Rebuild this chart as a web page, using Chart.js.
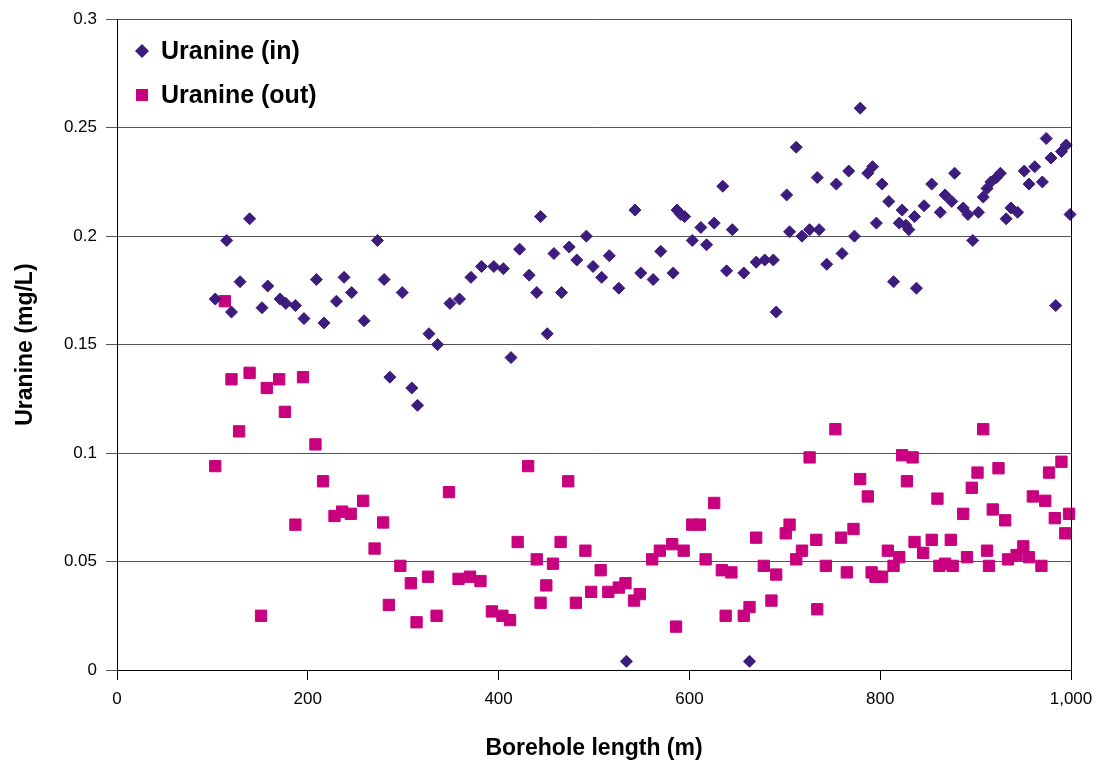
<!DOCTYPE html>
<html>
<head>
<meta charset="utf-8">
<script src="https://cdn.jsdelivr.net/npm/chart.js@4.4.1/dist/chart.umd.min.js"></script>
<style>
  html, body { margin: 0; padding: 0; background: #fff; }
</style>
</head>
<body>
<canvas id="uranineChart" width="1099" height="762"></canvas>
<script>
// borehole length (m) and uranine concentration (mg/L)
const depthIn = [103, 115, 120, 129, 139, 152, 158, 171, 177, 187, 196, 209, 217, 230, 238, 246, 259, 273, 280, 286,
  299, 309, 315, 327, 336, 349, 359, 371, 382, 395, 405, 413, 422, 432, 440, 444, 451, 458, 466, 474,
  482, 492, 499, 508, 516, 526, 534, 543, 549, 562, 570, 583, 587, 591, 595, 603, 612, 618, 626, 635,
  639, 645, 657, 663, 670, 679, 688, 691, 702, 705, 712, 718, 726, 734, 736, 744, 754, 760, 767, 773,
  779, 787, 792, 796, 802, 809, 814, 820, 823, 827, 830, 836, 838, 846, 854, 863, 868, 875, 878, 887,
  892, 897, 903, 908, 912, 916, 922, 926, 932, 937, 944, 951, 956, 962, 970, 974, 979, 984, 990, 995, 999];
const uranineIn = [0.171, 0.198, 0.165, 0.179, 0.208, 0.167, 0.177, 0.171, 0.169, 0.168, 0.162, 0.180, 0.160, 0.170, 0.181, 0.174, 0.161, 0.198, 0.180, 0.135,
  0.174, 0.130, 0.122, 0.155, 0.150, 0.169, 0.171, 0.181, 0.186, 0.186, 0.185, 0.144, 0.194, 0.182, 0.174, 0.209, 0.155, 0.192, 0.174, 0.195,
  0.189, 0.200, 0.186, 0.181, 0.191, 0.176, 0.004, 0.212, 0.183, 0.180, 0.193, 0.183, 0.212, 0.210, 0.209, 0.198, 0.204, 0.196, 0.206, 0.223,
  0.184, 0.203, 0.183, 0.004, 0.188, 0.189, 0.189, 0.165, 0.219, 0.202, 0.241, 0.200, 0.203, 0.227, 0.203, 0.187, 0.224, 0.192, 0.230, 0.200,
  0.259, 0.229, 0.232, 0.206, 0.224, 0.216, 0.179, 0.206, 0.212, 0.205, 0.203, 0.209, 0.176, 0.214, 0.224, 0.211, 0.219, 0.216, 0.229, 0.213,
  0.210, 0.198, 0.211, 0.218, 0.222, 0.225, 0.227, 0.229, 0.208, 0.213, 0.211, 0.230, 0.224, 0.232, 0.225, 0.245, 0.236, 0.168, 0.239, 0.242, 0.210];

const depthOut = [103, 113, 120, 128, 139, 151, 157, 170, 176, 187, 195, 208, 216, 228, 236, 245, 258, 270, 279, 285,
  297, 308, 314, 326, 335, 348, 358, 370, 381, 393, 404, 412, 420, 431, 440, 444, 450, 457, 465, 473,
  481, 491, 497, 507, 515, 526, 533, 542, 548, 561, 569, 582, 586, 594, 603, 611, 617, 626, 634, 638,
  644, 657, 663, 670, 678, 686, 691, 701, 705, 712, 718, 726, 733, 734, 743, 753, 759, 765, 772, 779,
  787, 791, 795, 802, 808, 814, 820, 823, 828, 834, 836, 845, 854, 860, 862, 868, 874, 876, 887, 891,
  896, 902, 908, 912, 914, 918, 924, 931, 934, 943, 950, 956, 960, 969, 973, 977, 983, 990, 994, 998];
const uranineOut = [0.094, 0.170, 0.134, 0.110, 0.137, 0.025, 0.130, 0.134, 0.119, 0.067, 0.135, 0.104, 0.087, 0.071, 0.073, 0.072, 0.078, 0.056, 0.068, 0.030,
  0.048, 0.040, 0.022, 0.043, 0.025, 0.082, 0.042, 0.043, 0.041, 0.027, 0.025, 0.023, 0.059, 0.094, 0.051, 0.031, 0.039, 0.049, 0.059, 0.087,
  0.031, 0.055, 0.036, 0.046, 0.036, 0.038, 0.040, 0.032, 0.035, 0.051, 0.055, 0.058, 0.020, 0.055, 0.067, 0.067, 0.051, 0.077, 0.046, 0.025,
  0.045, 0.025, 0.029, 0.061, 0.048, 0.032, 0.044, 0.063, 0.067, 0.051, 0.055, 0.098, 0.060, 0.028, 0.048, 0.111, 0.061, 0.045, 0.065, 0.088,
  0.080, 0.045, 0.043, 0.043, 0.055, 0.048, 0.052, 0.099, 0.087, 0.098, 0.059, 0.054, 0.060, 0.079, 0.048, 0.049, 0.060, 0.048, 0.072, 0.052,
  0.084, 0.091, 0.111, 0.055, 0.048, 0.074, 0.093, 0.069, 0.051, 0.053, 0.057, 0.052, 0.080, 0.048, 0.078, 0.091, 0.070, 0.096, 0.063, 0.072];

const inColor = '#3c1c7c';
const outColor = '#c8007f';
const fontFamily = '"Liberation Sans", Arial, sans-serif';

const toPoints = (xs, ys) => xs.map((x, i) => ({ x: x, y: ys[i] }));

// right-hand frame line and the legend inside the plot area
const frameAndLegend = {
  id: 'frameAndLegend',
  afterDraw(chart) {
    const { ctx, chartArea } = chart;
    ctx.save();
    ctx.strokeStyle = '#000';
    ctx.lineWidth = 1;
    ctx.beginPath();
    ctx.moveTo(Math.round(chartArea.right) + 0.5, chartArea.top);
    ctx.lineTo(Math.round(chartArea.right) + 0.5, chartArea.bottom);
    ctx.stroke();

    ctx.font = 'bold 25px ' + fontFamily;
    ctx.textBaseline = 'middle';
    chart.data.datasets.forEach((ds, i) => {
      const cx = 142;
      const cy = 51 + i * 44;
      ctx.fillStyle = ds.backgroundColor;
      ctx.beginPath();
      if (ds.pointStyle === 'rectRot') {
        ctx.moveTo(cx - 7, cy);
        ctx.lineTo(cx, cy - 7);
        ctx.lineTo(cx + 7, cy);
        ctx.lineTo(cx, cy + 7);
        ctx.closePath();
      } else {
        ctx.rect(cx - 6, cy - 6, 12, 12);
      }
      ctx.fill();
      ctx.fillStyle = '#000';
      ctx.fillText(ds.label, 161, cy + 1);
    });
    ctx.restore();
  }
};

new Chart(document.getElementById('uranineChart'), {
  type: 'scatter',
  data: {
    datasets: [
      {
        label: 'Uranine (in)',
        data: toPoints(depthIn, uranineIn),
        pointStyle: 'rectRot',
        pointRadius: 6,
        backgroundColor: inColor,
        borderColor: inColor,
        borderWidth: 1,
        clip: false
      },
      {
        label: 'Uranine (out)',
        data: toPoints(depthOut, uranineOut),
        pointStyle: 'rect',
        pointRadius: 8,
        backgroundColor: outColor,
        borderColor: outColor,
        borderWidth: 1,
        clip: false
      }
    ]
  },
  options: {
    responsive: false,
    animation: false,
    layout: { padding: { top: 19, right: 28, left: 0, bottom: 0 } },
    plugins: {
      legend: { display: false },
      tooltip: { enabled: false }
    },
    scales: {
      x: {
        type: 'linear',
        min: 0,
        max: 1000,
        afterFit(scale) {
          scale.height = 92;
          scale.paddingRight = 0;
        },
        ticks: {
          stepSize: 200,
          color: '#000',
          padding: 9,
          maxRotation: 0,
          font: { family: fontFamily, size: 17 }
        },
        grid: {
          drawOnChartArea: false,
          drawTicks: true,
          tickLength: 10,
          tickColor: '#000'
        },
        border: { color: '#000', width: 1 },
        title: {
          display: true,
          text: 'Borehole length (m)',
          color: '#000',
          padding: { top: 0, bottom: 0 },
          font: { family: fontFamily, size: 23, weight: 'bold' }
        }
      },
      y: {
        min: 0,
        max: 0.3,
        afterFit(scale) { scale.width = 117; },
        ticks: {
          stepSize: 0.05,
          color: '#000',
          padding: 9,
          font: { family: fontFamily, size: 17 },
          callback: value => String(Number(value.toFixed(2)))
        },
        grid: {
          color: '#555',
          tickLength: 11,
          tickColor: '#555'
        },
        border: { color: '#000', width: 1 },
        title: {
          display: true,
          text: 'Uranine (mg/L)',
          color: '#000',
          padding: { top: 12, bottom: 0 },
          font: { family: fontFamily, size: 23, weight: 'bold' }
        }
      }
    }
  },
  plugins: [frameAndLegend]
});
</script>
</body>
</html>
